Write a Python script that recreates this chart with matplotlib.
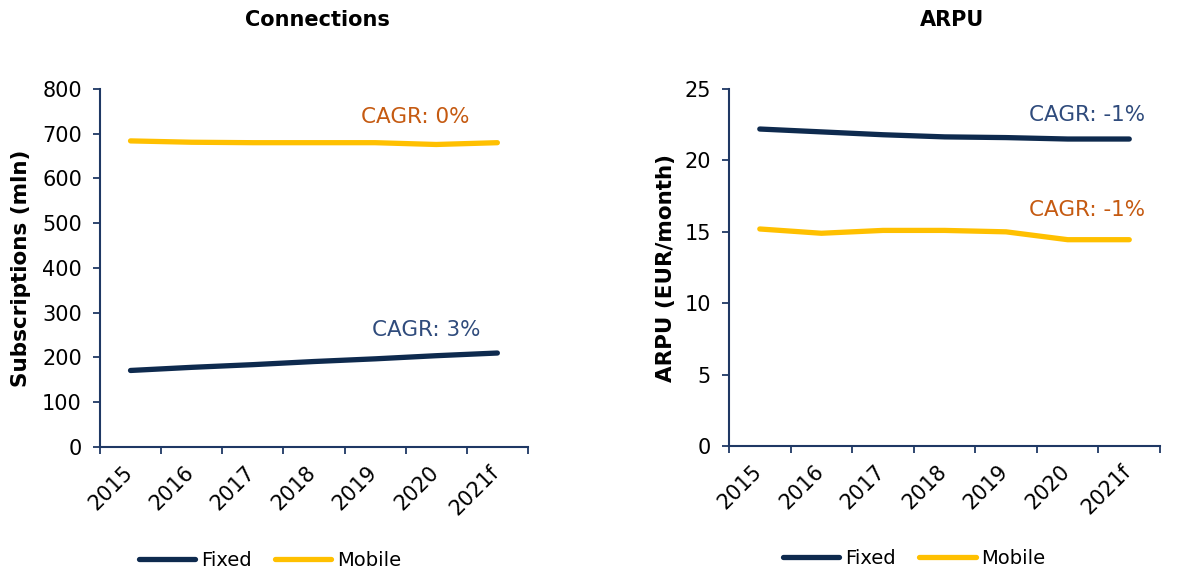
import numpy as np
import matplotlib.pyplot as plt

years = ["2015", "2016", "2017", "2018", "2019", "2020", "2021f"]
conn_fixed = [171, 178, 184, 191, 197, 204, 210]
conn_mobile = [684, 681, 680, 680, 680, 676, 680]
arpu_fixed = [22.2, 22.0, 21.8, 21.65, 21.6, 21.5, 21.5]
arpu_mobile = [15.2, 14.9, 15.1, 15.1, 15.0, 14.45, 14.45]

navy = "#0E2A4E"
yellow = "#FFC000"
orange = "#C55A11"
slate = "#2F4B7C"
spine_col = "#1F3864"

plt.rcParams["font.family"] = "DejaVu Sans"
plt.rcParams["font.size"] = 15

fig = plt.figure(figsize=(11.8, 5.73), dpi=100)
ax1 = fig.add_axes([0.0847, 0.2199, 0.3627, 0.6248])
ax2 = fig.add_axes([0.6178, 0.2216, 0.3653, 0.6230])

x = np.arange(len(years))


def style(ax, ylim, yticks, ylabel, labx):
    ax.set_xlim(-0.5, len(years) - 0.5)
    ax.set_ylim(*ylim)
    ax.set_yticks(yticks)
    # category boundaries get the tick marks, labels sit (slightly right of) the centres
    ax.set_xticks(np.arange(-0.5, len(years)), [""] * (len(years) + 1))
    ax.set_xticks(x + 0.1, years, minor=True)
    ax.tick_params(axis="x", which="major", length=5, width=1.3, color=spine_col)
    ax.tick_params(axis="x", which="minor", length=0, pad=11)
    ax.tick_params(axis="y", length=5, width=1.3, color=spine_col, pad=8)
    for lab in ax.get_xticklabels(minor=True):
        lab.set_rotation(45)
        lab.set_ha("right")
    for s in ["top", "right"]:
        ax.spines[s].set_visible(False)
    for s in ["left", "bottom"]:
        ax.spines[s].set_color(spine_col)
        ax.spines[s].set_linewidth(1.5)
    ax.set_ylabel(ylabel, fontweight="bold", fontsize=15.5)
    ax.yaxis.set_label_coords(labx, 0.5)


ax1.plot(x, conn_fixed, color=navy, lw=3.8, solid_capstyle="round", label="Fixed")
ax1.plot(x, conn_mobile, color=yellow, lw=3.8, solid_capstyle="round", label="Mobile")
style(ax1, (0, 800), range(0, 801, 100), "Subscriptions (mln)", -0.16)
ax1.text(5.55, 737, "CAGR: 0%", color=orange, ha="right", va="center", fontsize=15.5)
ax1.text(5.72, 261, "CAGR: 3%", color=slate, ha="right", va="center", fontsize=15.5)
ax1.legend(loc="center", bbox_to_anchor=(0.397, -0.316), ncol=2, frameon=False,
           handlelength=2.9, columnspacing=1.2, handletextpad=0.3, fontsize=14)

ax2.plot(x, arpu_fixed, color=navy, lw=3.8, solid_capstyle="round", label="Fixed")
ax2.plot(x, arpu_mobile, color=yellow, lw=3.8, solid_capstyle="round", label="Mobile")
style(ax2, (0, 25), range(0, 26, 5), "ARPU (EUR/month)", -0.123)
ax2.text(6.25, 23.2, "CAGR: -1%", color=slate, ha="right", va="center", fontsize=15.5)
ax2.text(6.25, 16.5, "CAGR: -1%", color=orange, ha="right", va="center", fontsize=15.5)
ax2.legend(loc="center", bbox_to_anchor=(0.43, -0.314), ncol=2, frameon=False,
           handlelength=2.9, columnspacing=1.2, handletextpad=0.3, fontsize=14)

fig.text(0.269, 0.965, "Connections", ha="center", va="center", fontweight="bold", fontsize=15)
fig.text(0.807, 0.965, "ARPU", ha="center", va="center", fontweight="bold", fontsize=15)

fig.savefig("out.png", dpi=100)
